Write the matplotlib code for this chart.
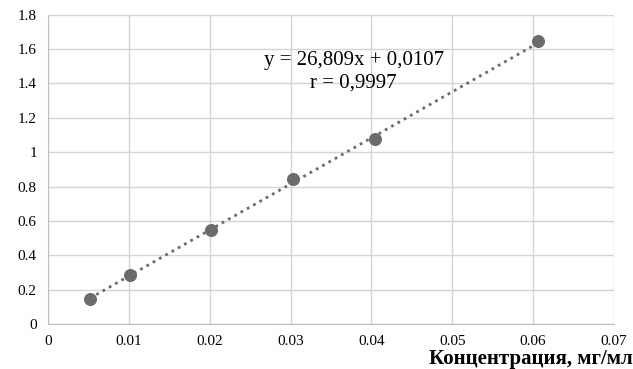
import numpy as np
import matplotlib
matplotlib.use("Agg")
import matplotlib.pyplot as plt

# градуировочный график
conc = [0.0052, 0.0102, 0.0202, 0.0303, 0.0404, 0.0606]
absorb = [0.146, 0.285, 0.547, 0.845, 1.077, 1.648]
slope = 26.809
intercept = 0.0107
xticks_vals = [0, 0.01, 0.02, 0.03, 0.04, 0.05, 0.06, 0.07]
xtick_labels = ["0", "0.01", "0.02", "0.03", "0.04", "0.05", "0.06", "0.07"]
yticks_vals = [0, 0.2, 0.4, 0.6, 0.8, 1.0, 1.2, 1.4, 1.6, 1.8]
ytick_labels = ["0", "0.2", "0.4", "0.6", "0.8", "1", "1.2", "1.4", "1.6", "1.8"]

plt.rcParams['font.family'] = ['Liberation Serif', 'DejaVu Serif']

fig = plt.figure(figsize=(6.33, 3.69), dpi=100)
ax = fig.add_axes([0.0758, 0.122, 0.894, 0.838])

ax.set_xlim(0, 0.07)
ax.set_ylim(0, 1.8)
ax.set_xticks(xticks_vals)
ax.set_xticklabels(xtick_labels)
ax.set_yticks(yticks_vals)
ax.set_yticklabels(ytick_labels)
ax.grid(color='#d4d4d4', linewidth=1)
ax.set_axisbelow(True)
for s in ['top', 'right']:
    ax.spines[s].set_visible(False)
ax.spines['left'].set_color('#bfbfbf')
ax.spines['bottom'].set_color('#bfbfbf')
ax.tick_params(length=0, labelsize=11, pad=8)

# линия тренда
xl = np.array([conc[0], conc[-1]])
ax.plot(xl, slope * xl + intercept, color='#6b6b6b', linestyle=(0, (1, 1.6)), linewidth=2)
ax.scatter(conc, absorb, s=70, color='#6b6b6b', zorder=3)

ax.text(0.0378, 1.535, "y = 26,809x + 0,0107", ha='center', va='center', fontsize=15)
ax.text(0.0378, 1.405, "r = 0,9997", ha='center', va='center', fontsize=15)

fig.text(0.999, 0.0, "Концентрация, мг/мл", ha='right', va='bottom',
         fontsize=15, fontweight='bold')

fig.savefig("out.png", dpi=100)
